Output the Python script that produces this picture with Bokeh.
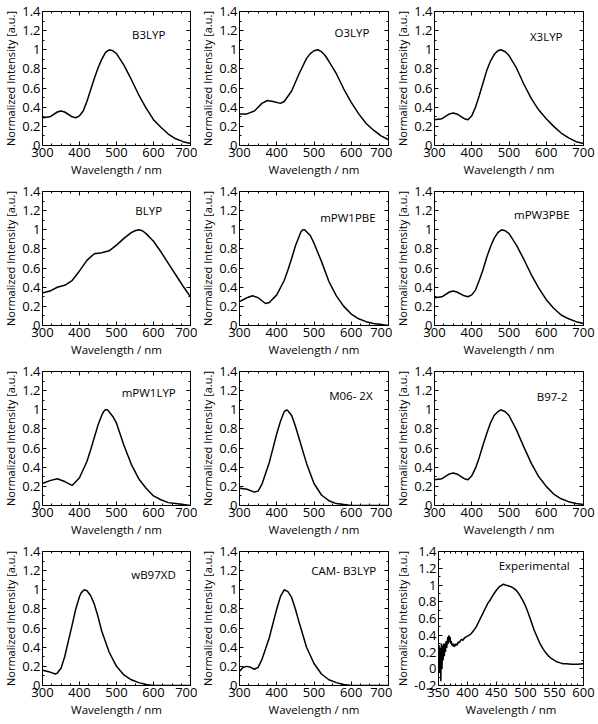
from bokeh.plotting import figure
from bokeh.layouts import column, row
from bokeh.models import LinearAxis, Range1d, FixedTicker, Label, CustomLabelingPolicy
from bokeh.embed import file_html
from bokeh.resources import INLINE

FONT = "Open Sans"

# ---------------- data ----------------
b3lyp_x = [300, 320, 340, 350, 360, 380, 390, 400, 410, 420, 430, 440, 450, 460, 470, 480, 490, 500, 520, 540, 560, 580, 600, 620, 640, 660, 680, 700]
b3lyp_y = [0.29, 0.30, 0.35, 0.36, 0.35, 0.30, 0.29, 0.31, 0.36, 0.46, 0.58, 0.70, 0.81, 0.90, 0.97, 1.00, 0.99, 0.96, 0.84, 0.69, 0.53, 0.39, 0.27, 0.19, 0.12, 0.07, 0.04, 0.02]

o3lyp_x = [300, 320, 340, 360, 375, 390, 410, 420, 440, 460, 480, 490, 500, 510, 520, 530, 540, 560, 580, 600, 620, 640, 660, 680, 700]
o3lyp_y = [0.33, 0.33, 0.36, 0.44, 0.47, 0.46, 0.44, 0.46, 0.57, 0.75, 0.91, 0.96, 0.99, 1.00, 0.98, 0.94, 0.88, 0.75, 0.59, 0.45, 0.33, 0.23, 0.16, 0.10, 0.06]

x3lyp_x = [300, 320, 340, 350, 360, 380, 390, 400, 410, 420, 430, 440, 450, 460, 470, 478, 490, 500, 520, 540, 560, 580, 600, 620, 640, 660, 680, 700]
x3lyp_y = [0.27, 0.28, 0.33, 0.34, 0.33, 0.28, 0.27, 0.31, 0.40, 0.52, 0.65, 0.78, 0.88, 0.95, 0.99, 1.00, 0.98, 0.94, 0.81, 0.64, 0.49, 0.37, 0.28, 0.20, 0.13, 0.08, 0.04, 0.02]

blyp_x = [300, 320, 340, 350, 360, 380, 400, 420, 440, 460, 480, 500, 520, 540, 550, 560, 570, 580, 590, 600, 620, 640, 660, 680, 700]
blyp_y = [0.34, 0.36, 0.40, 0.41, 0.42, 0.47, 0.57, 0.68, 0.75, 0.76, 0.78, 0.84, 0.91, 0.97, 0.99, 1.00, 0.99, 0.96, 0.92, 0.88, 0.77, 0.65, 0.53, 0.41, 0.30]

mpw1pbe_x = [300, 320, 335, 350, 370, 380, 400, 420, 430, 440, 450, 460, 465, 470, 475, 480, 490, 500, 520, 540, 560, 580, 600, 620, 640, 660, 680, 700]
mpw1pbe_y = [0.25, 0.29, 0.31, 0.29, 0.23, 0.24, 0.32, 0.47, 0.58, 0.70, 0.83, 0.93, 0.98, 1.00, 1.00, 0.98, 0.94, 0.86, 0.67, 0.46, 0.31, 0.20, 0.12, 0.07, 0.04, 0.02, 0.01, 0.00]

mpw3pbe_x = [300, 320, 340, 350, 360, 380, 390, 400, 410, 420, 430, 440, 450, 460, 470, 480, 490, 500, 520, 540, 560, 580, 600, 620, 640, 660, 680, 700]
mpw3pbe_y = [0.29, 0.30, 0.35, 0.36, 0.35, 0.31, 0.30, 0.32, 0.37, 0.47, 0.58, 0.71, 0.82, 0.91, 0.97, 1.00, 0.99, 0.96, 0.84, 0.69, 0.53, 0.39, 0.27, 0.18, 0.11, 0.07, 0.04, 0.02]

mpw1lyp_x = [300, 320, 340, 360, 380, 400, 420, 430, 440, 450, 460, 465, 470, 475, 480, 490, 500, 520, 540, 560, 580, 600, 620, 640, 660, 680, 700]
mpw1lyp_y = [0.23, 0.26, 0.28, 0.25, 0.21, 0.29, 0.46, 0.58, 0.71, 0.84, 0.94, 0.98, 1.00, 1.00, 0.98, 0.93, 0.86, 0.63, 0.43, 0.28, 0.18, 0.10, 0.06, 0.03, 0.02, 0.01, 0.00]

m062x_x = [300, 320, 340, 350, 360, 380, 390, 400, 410, 420, 427, 430, 440, 450, 460, 480, 500, 520, 540, 560, 580, 600, 650, 700]
m062x_y = [0.18, 0.17, 0.14, 0.15, 0.22, 0.45, 0.60, 0.75, 0.88, 0.98, 1.00, 0.99, 0.94, 0.83, 0.70, 0.44, 0.23, 0.11, 0.05, 0.02, 0.01, 0.00, 0.00, 0.00]

b972_x = [300, 320, 340, 350, 360, 380, 390, 400, 410, 420, 430, 440, 450, 460, 470, 478, 490, 500, 520, 540, 560, 580, 600, 620, 640, 660, 680, 700]
b972_y = [0.27, 0.28, 0.33, 0.34, 0.33, 0.28, 0.27, 0.31, 0.39, 0.50, 0.63, 0.75, 0.86, 0.94, 0.98, 1.00, 0.98, 0.94, 0.79, 0.61, 0.44, 0.30, 0.20, 0.12, 0.07, 0.04, 0.02, 0.01]

wb97xd_x = [300, 320, 335, 340, 350, 360, 380, 390, 400, 405, 413, 420, 430, 440, 450, 460, 480, 500, 520, 540, 560, 580, 600, 650, 700]
wb97xd_y = [0.16, 0.14, 0.12, 0.13, 0.18, 0.30, 0.63, 0.80, 0.93, 0.97, 1.00, 0.99, 0.94, 0.85, 0.72, 0.57, 0.35, 0.20, 0.11, 0.06, 0.03, 0.01, 0.00, 0.00, 0.00]

camb3lyp_x = [300, 310, 320, 330, 340, 350, 360, 380, 390, 400, 410, 420, 430, 440, 450, 460, 480, 500, 520, 540, 560, 580, 600, 650, 700]
camb3lyp_y = [0.15, 0.19, 0.20, 0.19, 0.17, 0.19, 0.27, 0.50, 0.65, 0.80, 0.93, 1.00, 0.98, 0.92, 0.80, 0.66, 0.40, 0.23, 0.12, 0.06, 0.03, 0.01, 0.00, 0.00, 0.00]

exp_x = [350, 351, 352, 353, 354, 355, 356, 357, 358, 359, 360, 361, 362, 363, 364, 365, 366, 367, 368, 369,
         370, 371, 372, 373, 374, 375, 376, 377, 378, 379, 380, 382, 384, 386, 388, 390, 392, 395, 398, 400,
         405, 410, 415, 420, 425, 430, 435, 440, 445, 450, 455, 460, 462, 465, 470, 475, 480, 485, 490, 495,
         500, 505, 510, 515, 520, 525, 530, 535, 540, 545, 550, 555, 560, 565, 570, 580, 590, 600]
exp_y = [0.10, 0.28, -0.05, 0.25, -0.15, 0.30, 0.00, 0.28, 0.10, 0.30, 0.15, 0.30, 0.20, 0.33, 0.25, 0.30, 0.38, 0.30, 0.40, 0.32,
         0.38, 0.30, 0.33, 0.28, 0.30, 0.27, 0.30, 0.26, 0.29, 0.27, 0.30, 0.28, 0.32, 0.31, 0.34, 0.35, 0.34, 0.37, 0.38, 0.39,
         0.41, 0.45, 0.50, 0.57, 0.64, 0.71, 0.78, 0.83, 0.89, 0.94, 0.98, 1.00, 1.01, 1.00, 0.99, 0.98, 0.96, 0.93, 0.88, 0.82,
         0.75, 0.66, 0.56, 0.46, 0.38, 0.30, 0.24, 0.19, 0.15, 0.12, 0.10, 0.08, 0.07, 0.06, 0.06, 0.055, 0.055, 0.06]

names = ["B3LYP", "O3LYP", "X3LYP", "BLYP", "mPW1PBE", "mPW3PBE",
         "mPW1LYP", "M06- 2X", "B97-2", "wB97XD", "CAM- B3LYP", "Experimental"]
series = [(b3lyp_x, b3lyp_y), (o3lyp_x, o3lyp_y), (x3lyp_x, x3lyp_y),
          (blyp_x, blyp_y), (mpw1pbe_x, mpw1pbe_y), (mpw3pbe_x, mpw3pbe_y),
          (mpw1lyp_x, mpw1lyp_y), (m062x_x, m062x_y), (b972_x, b972_y),
          (wb97xd_x, wb97xd_y), (camb3lyp_x, camb3lyp_y), (exp_x, exp_y)]

sim_xticks = [300, 400, 500, 600, 700]
sim_yticks = [0, 0.2, 0.4, 0.6, 0.8, 1.0, 1.2, 1.4]
exp_xticks = [350, 400, 450, 500, 550, 600]
exp_yticks = [-0.2, 0, 0.2, 0.4, 0.6, 0.8, 1.0, 1.2, 1.4]

# label anchors (layout, data coordinates)
label_pos = [(587, 1.16), (602, 1.18), (600, 1.14),
             (587, 1.20), (591, 1.13), (588, 1.16),
             (587, 1.18), (599, 1.15), (616, 1.14),
             (600, 1.16), (580, 1.20), (515, 1.23)]

col_w = [197, 195, 206]
col_left = [37, 40, 38]
col_right = [7, 4, 15]

HIDE_LABELS = """
for (let i = 0; i < indices.size; i++) { indices.unset(i) }
return indices
"""


def make_panel(i):
    c = i % 3
    is_exp = names[i] == "Experimental"
    xs, ys = series[i]
    xr = Range1d(350, 600) if is_exp else Range1d(300, 700)
    yr = Range1d(-0.2, 1.4) if is_exp else Range1d(0, 1.4)
    xt = exp_xticks if is_exp else sim_xticks
    yt = exp_yticks if is_exp else sim_yticks
    xminor = [v for v in range(350, 601, 10)] if is_exp else [v for v in range(300, 701, 25)]
    yminor = [round(-0.2 + 0.1 * k, 2) for k in range(17)] if is_exp else [round(0.1 * k, 2) for k in range(15)]

    p = figure(width=col_w[c], height=180, x_range=xr, y_range=yr,
               output_backend="svg", toolbar_location=None,
               min_border_left=col_left[c], min_border_right=col_right[c],
               min_border_top=11, min_border_bottom=35)
    p.grid.visible = False
    p.outline_line_color = "black"
    p.outline_line_width = 1
    p.background_fill_color = "white"
    p.border_fill_color = "white"

    p.line(xs, ys, line_color="black", line_width=1.5)

    for ax, ticks, minor in ((p.xaxis[0], xt, xminor), (p.yaxis[0], yt, yminor)):
        ax.ticker = FixedTicker(ticks=ticks, minor_ticks=minor)
        ax.major_tick_in = 4
        ax.major_tick_out = 0
        ax.minor_tick_in = 2
        ax.minor_tick_out = 0
        ax.axis_line_color = "black"
        ax.major_label_text_font = FONT
        ax.major_label_text_font_size = "13px"
        ax.major_label_text_color = "black"
        ax.major_label_standoff = 2
        ax.axis_label_text_font = FONT
        ax.axis_label_text_font_style = "normal"
        ax.axis_label_text_color = "black"
        ax.axis_label_standoff = 2
    p.xaxis[0].axis_label = "Wavelength / nm"
    p.xaxis[0].axis_label_text_font_size = "11.5px"
    p.yaxis[0].axis_label = "Normalized Intensity [a.u.]"
    p.yaxis[0].axis_label_text_font_size = "11px"
    p.yaxis[0].axis_label_standoff = 1
    p.yaxis[0].major_label_overrides = {v: ("1" if v == 1.0 else ("0" if v == 0 else f"{v:g}")) for v in yt}

    # mirrored tick marks on top and right (no labels)
    top = LinearAxis(ticker=FixedTicker(ticks=xt, minor_ticks=xminor),
                     major_tick_in=4, major_tick_out=0, minor_tick_in=2, minor_tick_out=0,
                     major_label_standoff=0, major_label_text_font_size="1px",
                     major_label_policy=CustomLabelingPolicy(code=HIDE_LABELS),
                     axis_line_color="black")
    right = LinearAxis(ticker=FixedTicker(ticks=yt, minor_ticks=yminor),
                       major_tick_in=4, major_tick_out=0, minor_tick_in=2, minor_tick_out=0,
                       major_label_standoff=0, major_label_text_font_size="1px",
                       major_label_policy=CustomLabelingPolicy(code=HIDE_LABELS),
                       axis_line_color="black")
    p.add_layout(top, "above")
    p.add_layout(right, "right")

    lx, ly = label_pos[i]
    p.add_layout(Label(x=lx, y=ly, text=names[i], text_font=FONT, text_font_size="11.5px",
                       text_color="black", text_align="center", text_baseline="middle"))
    return p


panels = [make_panel(i) for i in range(12)]
layout = column(*[row(*panels[r * 3:(r + 1) * 3], spacing=0) for r in range(4)], spacing=0)

open("out.html", "w").write(file_html(layout, INLINE))
